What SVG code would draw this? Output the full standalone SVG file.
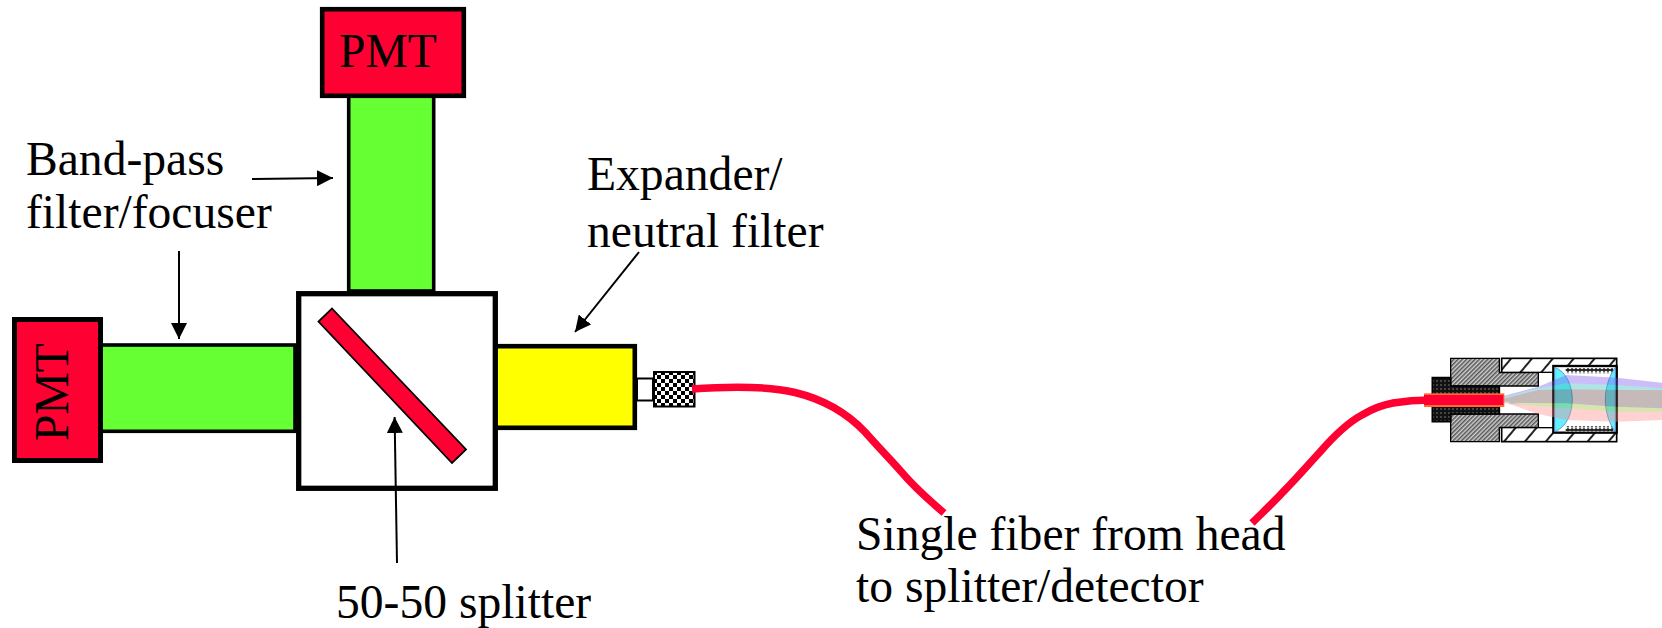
<svg xmlns="http://www.w3.org/2000/svg" width="1662" height="628" viewBox="0 0 1662 628">
<style>
text{font-family:"Liberation Serif","Times New Roman",serif;font-size:47.6px;fill:#000}
.b{stroke:#000;stroke-linejoin:miter}
.red{fill:#ff0033}.grn{fill:#66ff33}.yel{fill:#ffff00}
.ln{fill:none;stroke:#000;stroke-width:2;marker-end:url(#ah)}
.fib{fill:none;stroke:#ff0033;stroke-width:7.5;stroke-linecap:butt}
</style>
<defs>
<marker id="ah" markerUnits="userSpaceOnUse" markerWidth="18" markerHeight="16" refX="16" refY="8" orient="auto"><path d="M0 0L16 8L0 16Z" fill="#000"/></marker>
<pattern id="chk" width="8" height="8" patternUnits="userSpaceOnUse" x="653" y="371"><rect width="8" height="8" fill="#fff"/><rect width="4" height="4" fill="#000"/><rect x="4" y="4" width="4" height="4" fill="#000"/></pattern>
<pattern id="hg" width="9" height="9" patternUnits="userSpaceOnUse" patternTransform="rotate(-45)"><rect width="9" height="9" fill="#d0d0d0"/><rect width="9" height="4.500" fill="#555"/></pattern>
<pattern id="hw" width="48" height="48" patternUnits="userSpaceOnUse" patternTransform="rotate(-50)"><rect width="48" height="48" fill="#fff"/><rect width="48" height="6" fill="#222"/></pattern>
<pattern id="dk" width="12" height="12" patternUnits="userSpaceOnUse"><rect width="12" height="12" fill="#111"/><rect width="6" height="6" fill="#444"/></pattern>
<pattern id="sp" width="24" height="15" patternUnits="userSpaceOnUse"><rect width="24" height="15" fill="#222"/><circle cx="6" cy="7.500" r="5" fill="#fff"/><circle cx="18" cy="7.500" r="5" fill="#eee"/></pattern>
</defs>
<g id="green-top"><rect class="b grn" x="348.700" y="96" width="85" height="195" stroke-width="3.600"/></g>
<g id="green-left"><rect class="b grn" x="101" y="345" width="194" height="86.300" stroke-width="3.600"/></g>
<g id="pmt-top"><rect class="b red" x="322.200" y="9.200" width="141.600" height="86.600" stroke-width="4.600"/><text x="339" y="67">PMT</text></g>
<g id="pmt-left"><rect class="b red" x="14.500" y="319.500" width="86" height="141" stroke-width="5"/><text transform="translate(67.500 441) rotate(-90)">PMT</text></g>
<g id="expander"><rect class="b yel" x="494" y="346.200" width="140.800" height="81.600" stroke-width="4.600"/></g>
<g id="splitter"><rect class="b" fill="#fff" x="298.700" y="293.700" width="196.600" height="194.600" stroke-width="5.300"/><polygon class="b red" points="332,308.500 466,449.500 452,463 318.500,321.500" stroke-width="1.800"/></g>
<g id="coupler"><rect class="b" fill="#fff" x="637" y="378.500" width="16" height="22" stroke-width="2"/><rect class="b" fill="url(#chk)" x="654" y="372" width="40.500" height="34.500" stroke-width="2"/></g>
<g id="connectors">
<path class="fib" d="M692 389C725 386.500 765 385.500 795 392.500C822 399 846 412 865 432C880 449 891 460 901.500 472C915 488 930 501 944 513"/>
<path class="fib" d="M1252 523C1262 513 1273 503 1283 492C1296 479 1308 465 1320 452C1333 437 1347 423 1362 415C1372 409 1382 405 1393 403C1405 401 1418 400 1430 400"/>
<line class="ln" x1="252" y1="179" x2="333" y2="178"/>
<line class="ln" x1="179" y1="251" x2="179" y2="339"/>
<line class="ln" x1="639" y1="252" x2="575" y2="332"/>
<line class="ln" x1="397" y1="563" x2="394.600" y2="417"/>
</g>
<g id="head">
<g transform="translate(1400 340) scale(.33333)">
<rect x="305" y="55" width="345" height="250" fill="url(#hw)" stroke="#000" stroke-width="5"/>
<rect x="298" y="97" width="170" height="166" fill="#fff" stroke="#000" stroke-width="4"/>
<polygon points="152,55 298,55 298,98 415,98 415,138 152,138" fill="url(#hg)" stroke="#000" stroke-width="4"/>
<polygon points="152,222 415,222 415,262 298,262 298,305 152,305" fill="url(#hg)" stroke="#000" stroke-width="4"/>
<polygon points="97,113 152,113 152,138 298,138 298,222 152,222 152,245 97,245" fill="url(#dk)" stroke="#000" stroke-width="5"/>
<rect x="460" y="78" width="190" height="200" fill="#fff" stroke="#000" stroke-width="7"/>
<rect x="497" y="84" width="143" height="16" fill="url(#sp)"/>
<rect x="497" y="258" width="143" height="16" fill="url(#sp)"/>
<path d="M464 82C500 95 517 140 517 178C517 220 500 262 464 275Z" fill="#66eeff" stroke="#3377cc" stroke-width="2"/>
<path d="M646 82C625 110 616 150 616 178C616 210 625 250 646 275Z" fill="#66eeff" stroke="#3377cc" stroke-width="2"/>
<g opacity=".38">
<path d="M310 168L415 140L500 105L650 113L786 128V160L650 152L500 150L310 178Z" fill="#7a55ee"/>
<path d="M310 172L415 145L500 130L650 135L786 145V175L650 170L500 170L310 182Z" fill="#33bbbb"/>
<path d="M310 176L415 150L500 148L650 150L786 150V225L650 225L500 225L415 212L310 186Z" fill="#665050"/>
<path d="M310 180L415 152L500 150L650 150L786 155V225L650 225L500 225L415 212L310 186Z" fill="#6a4a4a"/>
<path d="M310 184L415 205L500 220L650 235L786 225V205L650 200L500 190L310 188Z" fill="#99bb33"/>
<path d="M310 186L415 222L500 240L650 245L786 240V215L650 215L500 205L310 190Z" fill="#ff8888"/>
</g>
<rect x="72" y="160" width="241" height="41" fill="#ff6a30"/>
<rect x="72" y="165" width="238" height="30" fill="#ff0033"/>
</g>
</g>
<g id="labels">
<text x="26" y="175">Band-pass</text>
<text x="26" y="228">filter/focuser</text>
<text x="587" y="190">Expander/</text>
<text x="587" y="247">neutral filter</text>
<text x="336" y="618">50-50 splitter</text>
<text x="856" y="550">Single fiber from head</text>
<text x="856" y="602">to splitter/detector</text>
</g>
</svg>
